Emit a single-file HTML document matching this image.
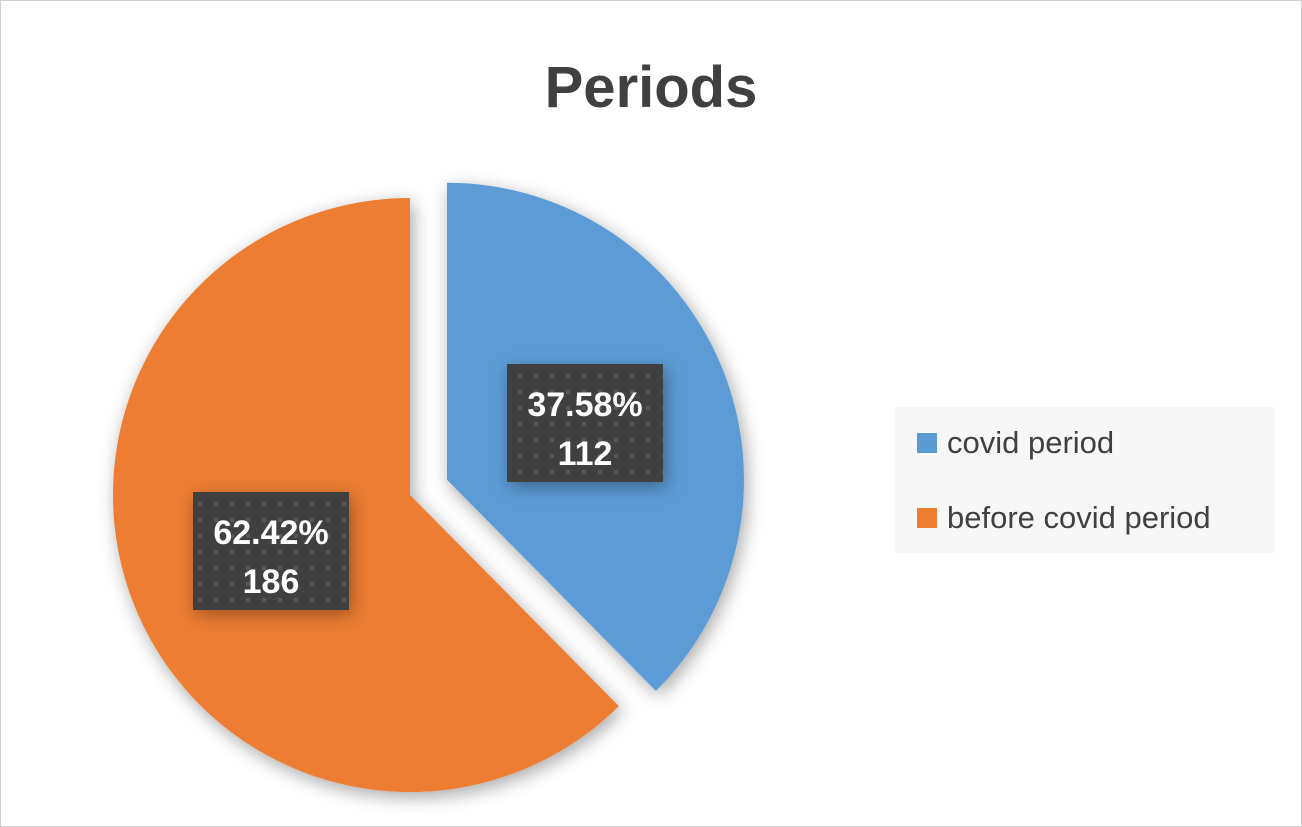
<!DOCTYPE html>
<html><head><meta charset="utf-8"><style>
body{margin:0;background:#fff;}
svg{display:block;font-family:"Liberation Sans",sans-serif;}
</style></head><body>
<svg width="1302" height="827">
<defs>
<pattern id="dots" width="16" height="16" patternUnits="userSpaceOnUse"><rect width="16" height="16" fill="#404040"/><rect x="6" y="6" width="4" height="4" fill="#595959"/></pattern>
<filter id="sh" x="-20%" y="-20%" width="140%" height="140%"><feGaussianBlur in="SourceAlpha" stdDeviation="9"/><feOffset dx="3" dy="5"/><feComponentTransfer><feFuncA type="linear" slope="0.35"/></feComponentTransfer><feMerge><feMergeNode/><feMergeNode in="SourceGraphic"/></feMerge></filter>
</defs>
<rect x="0.5" y="0.5" width="1301" height="826" fill="#fff" stroke="#d0d0d0"/>
<text x="651" y="107" text-anchor="middle" font-size="58" font-weight="bold" fill="#404040">Periods</text>
<g id="slices" filter="url(#sh)"></g>
<g id="labels"></g>
<rect x="895" y="407" width="380" height="146" fill="#f7f7f7"/>
<rect x="917" y="433" width="20" height="20" fill="#5b9bd5"/>
<text x="947" y="453" font-size="31" fill="#404040">covid period</text>
<rect x="917" y="508" width="20" height="20" fill="#ed7d31"/>
<text x="947" y="528" font-size="31" fill="#404040">before covid period</text>
</svg>
<script>
const categories=["covid period","before covid period"];
const values=[112,186];
const colors=["#5b9bd5","#ed7d31"];
const explode=[40,0];
const labelPos=[[585,423],[271,551]];
const cx=410,cy=495,r=297;
const total=values.reduce((a,b)=>a+b,0);
const gS=document.getElementById('slices'),gL=document.getElementById('labels');
const NS="http://www.w3.org/2000/svg";
let a0=0;
values.forEach((v,i)=>{
  const frac=v/total,a1=a0+frac*2*Math.PI,mid=(a0+a1)/2;
  const ox=cx+explode[i]*Math.sin(mid),oy=cy-explode[i]*Math.cos(mid);
  const x0=ox+r*Math.sin(a0),y0=oy-r*Math.cos(a0),x1=ox+r*Math.sin(a1),y1=oy-r*Math.cos(a1);
  const p=document.createElementNS(NS,'path');
  p.setAttribute('d',`M${ox},${oy}L${x0},${y0}A${r},${r} 0 ${frac>0.5?1:0} 1 ${x1},${y1}Z`);
  p.setAttribute('fill',colors[i]);
  
  
  gS.appendChild(p);
  const [lx,ly]=labelPos[i];
  const g=document.createElementNS(NS,'g');
  
  
  g.setAttribute('filter','url(#sh)');
  g.innerHTML=`<rect x="${lx-78}" y="${ly-59}" width="156" height="118" fill="url(#dots)"/>
  <text x="${lx}" y="${ly-7}" text-anchor="middle" font-size="34" font-weight="bold" fill="#fff">${(frac*100).toFixed(2)}%</text>
  <text x="${lx}" y="${ly+42}" text-anchor="middle" font-size="34" font-weight="bold" fill="#fff">${v}</text>`;
  gL.appendChild(g);
  a0=a1;
});
</script>
</body></html>
